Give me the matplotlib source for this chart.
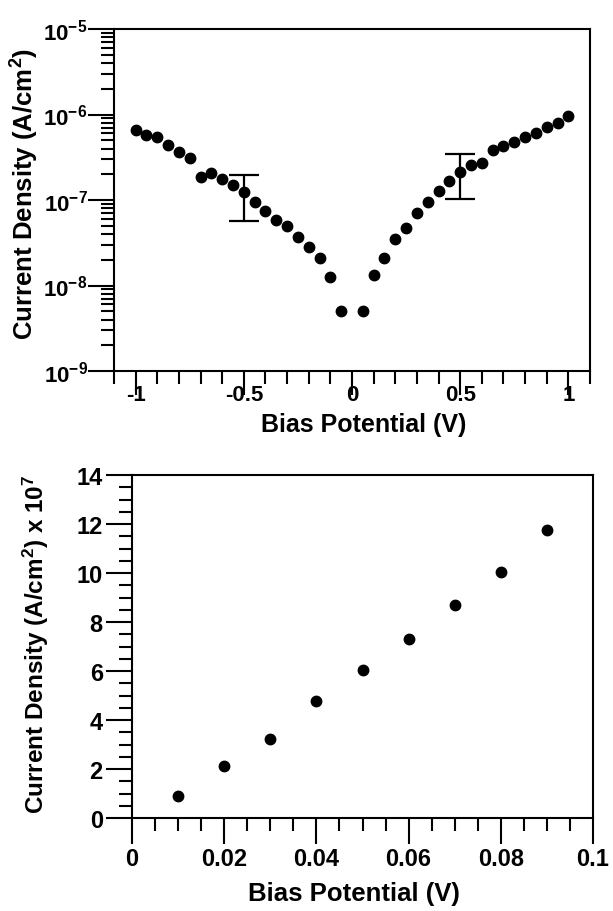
import matplotlib
matplotlib.use("Agg")
import matplotlib.pyplot as plt
from matplotlib.ticker import FixedLocator, MultipleLocator, LogLocator, NullFormatter
import numpy as np

plt.rcParams.update({
    "font.family": ["Liberation Sans", "DejaVu Sans"],
    "font.weight": "bold",
    "axes.unicode_minus": False,
    "mathtext.fontset": "custom",
    "mathtext.rm": "Liberation Sans:bold",
    "mathtext.it": "Liberation Sans:bold",
    "mathtext.bf": "Liberation Sans:bold",
    "mathtext.sf": "Liberation Sans:bold",
})

# ---- Top panel data: log current density vs bias ----
bias_top = [-1.00, -0.95, -0.90, -0.85, -0.80, -0.75, -0.70, -0.65, -0.60, -0.55,
            -0.50, -0.45, -0.40, -0.35, -0.30, -0.25, -0.20, -0.15, -0.10, -0.05,
            0.05, 0.10, 0.15, 0.20, 0.25, 0.30, 0.35, 0.40, 0.45, 0.50,
            0.55, 0.60, 0.65, 0.70, 0.75, 0.80, 0.85, 0.90, 0.95, 1.00]
current_top = [6.5e-7, 5.8e-7, 5.5e-7, 4.35e-7, 3.6e-7, 3.1e-7, 1.85e-7, 2.05e-7, 1.75e-7, 1.5e-7,
               1.25e-7, 9.4e-8, 7.4e-8, 5.9e-8, 5.0e-8, 3.7e-8, 2.8e-8, 2.1e-8, 1.26e-8, 5.1e-9,
               5.1e-9, 1.33e-8, 2.1e-8, 3.5e-8, 4.75e-8, 7.1e-8, 9.4e-8, 1.27e-7, 1.69e-7, 2.12e-7,
               2.56e-7, 2.68e-7, 3.8e-7, 4.3e-7, 4.8e-7, 5.5e-7, 6.1e-7, 7.2e-7, 8.0e-7, 9.6e-7]

err_x = [-0.50, 0.50]
err_center = [1.25e-7, 2.12e-7]
err_high = [1.94e-7, 3.42e-7]
err_low = [5.75e-8, 1.03e-7]

ytick_top = [1e-9, 1e-8, 1e-7, 1e-6, 1e-5]
ytick_top_labels = [r"$10^{-9}$", r"$10^{-8}$", r"$10^{-7}$", r"$10^{-6}$", r"$10^{-5}$"]
xtick_top = [-1, -0.5, 0, 0.5, 1]
xtick_top_labels = ["-1", "-0.5", "0", "0.5", "1"]

# ---- Bottom panel data: linear region ----
bias_bot = [0.01, 0.02, 0.03, 0.04, 0.05, 0.06, 0.07, 0.08, 0.09]
current_bot = [0.91, 2.12, 3.22, 4.78, 6.05, 7.31, 8.69, 10.03, 11.77]
xtick_bot = [0, 0.02, 0.04, 0.06, 0.08, 0.1]
xtick_bot_labels = ["0", "0.02", "0.04", "0.06", "0.08", "0.1"]
ytick_bot = [0, 2, 4, 6, 8, 10, 12, 14]

W, H = 613, 912
fig = plt.figure(figsize=(W / 100, H / 100), dpi=100)

TICK_FS = 17
LABEL_FS = 18.5
MAJ_LEN, MIN_LEN = 19, 9.5
TW = 1.5

def style(ax, xpad, ypad, xmaj=MAJ_LEN):
    for s in ax.spines.values():
        s.set_linewidth(1.5)
        s.set_color("black")
    ax.tick_params(which="both", direction="out", width=TW, top=False, right=False,
                   labelsize=TICK_FS, colors="black")
    ax.tick_params(which="major", length=MAJ_LEN)
    ax.tick_params(which="minor", length=MIN_LEN)
    ax.tick_params(axis="x", which="major", length=xmaj, pad=xpad)
    ax.tick_params(axis="y", pad=ypad)
    for lab in ax.get_xticklabels() + ax.get_yticklabels():
        lab.set_fontweight("bold")

def fx(px):
    return px / W

def fy(py):
    return 1 - py / H

# Top axes (pixel box: x 114..590, y 30..372)
ax1 = fig.add_axes([fx(114), fy(372), fx(590) - fx(114), fy(30) - fy(372)])
ax1.set_yscale("log")
ax1.set_xlim(-1.1, 1.1)
ax1.set_ylim(1e-9, 1e-5)
ax1.plot(bias_top, current_top, "o", color="black", markersize=7.5, zorder=3)
yerr = [np.array(err_center) - np.array(err_low), np.array(err_high) - np.array(err_center)]
ax1.errorbar(err_x, err_center, yerr=yerr, fmt="none", ecolor="black",
             elinewidth=1.6, capsize=10.5, capthick=1.6, zorder=2)
ax1.yaxis.set_major_locator(FixedLocator(ytick_top))
ax1.set_yticklabels(ytick_top_labels)
ax1.yaxis.set_minor_locator(LogLocator(base=10, subs=np.arange(2, 10)))
ax1.yaxis.set_minor_formatter(NullFormatter())
ax1.set_xticks(xtick_top)
ax1.set_xticklabels(xtick_top_labels)
ax1.xaxis.set_minor_locator(MultipleLocator(0.1))
style(ax1, xpad=-7.6, ypad=0, xmaj=17)
for lab in ax1.get_yticklabels():
    lab.set_fontsize(16)
for lab in ax1.get_xticklabels():
    lab.set_fontsize(16)

fig.text(fx(364), fy(425), "Bias Potential (V)", fontsize=18, fontweight="bold",
         ha="center", va="center")
fig.text(fx(25), fy(194), r"Current Density (A/cm$^{2}$)", fontsize=LABEL_FS,
         fontweight="bold", rotation=90, ha="center", va="center")

# Bottom axes (pixel box: x 132..593, y 476..819)
ax2 = fig.add_axes([fx(132), fy(819), fx(593) - fx(132), fy(476) - fy(819)])
ax2.set_xlim(0, 0.1)
ax2.set_ylim(0, 14)
ax2.plot(bias_bot, current_bot, "o", color="black", markersize=7.5, zorder=3)
ax2.set_xticks(xtick_bot)
ax2.set_xticklabels(xtick_bot_labels)
ax2.xaxis.set_minor_locator(MultipleLocator(0.005))
ax2.set_yticks(ytick_bot)
ax2.set_yticklabels([str(v) for v in ytick_bot])
ax2.yaxis.set_minor_locator(MultipleLocator(0.5))
style(ax2, xpad=2, ypad=2)

fig.text(fx(354), fy(894), "Bias Potential (V)", fontsize=LABEL_FS, fontweight="bold",
         ha="center", va="center")
fig.text(fx(36), fy(644), r"Current Density (A/cm$^{2}$) x 10$^{7}$", fontsize=17.5,
         fontweight="bold", rotation=90, ha="center", va="center")

fig.savefig("out.png", dpi=100)
